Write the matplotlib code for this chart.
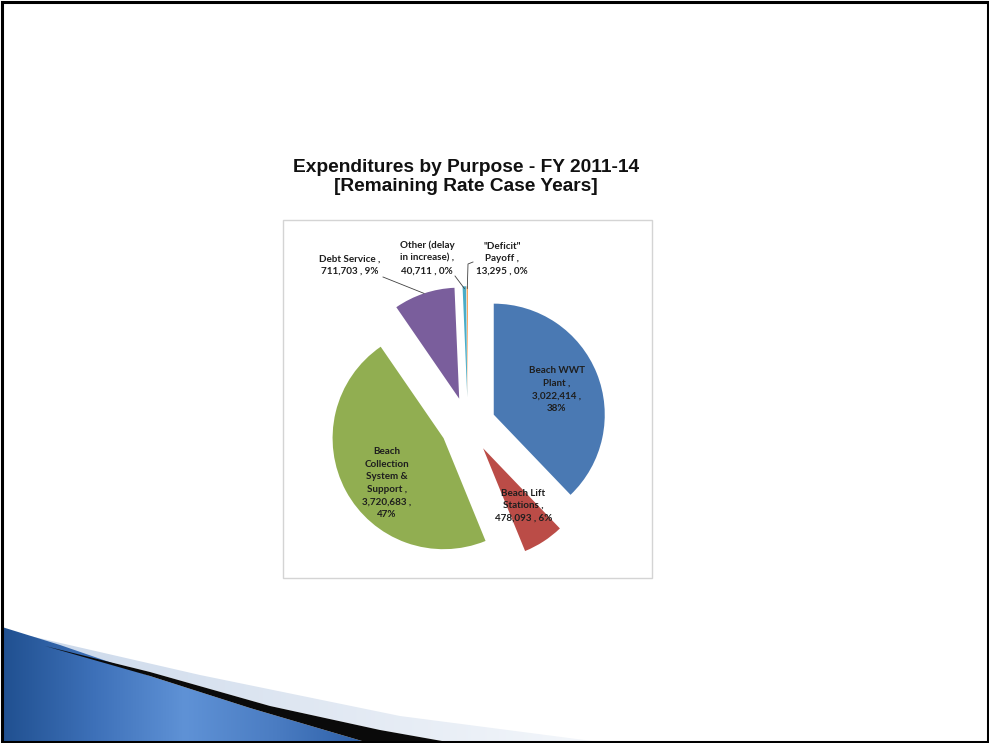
import numpy as np
import matplotlib
matplotlib.use("Agg")
import matplotlib.pyplot as plt
from matplotlib.patches import Polygon, Rectangle
from matplotlib.colors import LinearSegmentedColormap

# ---------------- data ----------------
categories = ["Beach WWT\nPlant ,", "Beach Lift\nStations ,", "Beach\nCollection\nSystem &\nSupport ,",
              "Debt Service ,", "Other (delay\nin increase) ,", "\"Deficit\"\nPayoff ,"]
values = [3022414, 478093, 3720683, 711703, 40711, 13295]
pct_labels = ["38%", "6%", "47%", "9%", "0%", "0%"]
colors = ["#4a79b3", "#bb4c47", "#91ae51", "#7a5e9c", "#4bacc6", "#f79646"]
title = "Expenditures by Purpose - FY 2011-14\n[Remaining Rate Case Years]"

W, H = 989, 743
fig = plt.figure(figsize=(W / 100, H / 100), dpi=100)
fig.patch.set_facecolor("white")
ax = fig.add_axes([0, 0, 1, 1])

def P(x, y):
    """pixel (top-left origin) -> data coords"""
    return (x, H - y)

# ---------------- bottom-left swoosh ----------------
blue_poly = [P(2, 627), P(60, 645), P(150, 676), P(250, 708), P(362, 741), P(2, 741)]
black_poly = [P(45, 646), P(150, 672), P(270, 706), P(380, 730), P(442, 741), P(362, 741),
              P(250, 708), P(150, 676)]
light_poly = [P(30, 636), P(200, 675), P(400, 716), P(592, 741), P(442, 741), P(380, 730),
              P(270, 706), P(150, 672), P(45, 646)]

light_cmap = LinearSegmentedColormap.from_list("l", ["#c9d7ea", "#dfe7f2", "#f4f7fb"])
grad = np.linspace(0, 1, 256).reshape(1, -1)
im = ax.imshow(grad, cmap=light_cmap, extent=(0, 600, 0, 120), aspect="auto", zorder=1)
lp = Polygon(light_poly, closed=True, transform=ax.transData, facecolor="none", edgecolor="none")
ax.add_patch(lp)
im.set_clip_path(lp)

blue_cmap = LinearSegmentedColormap.from_list("b", ["#1f4f8f", "#3d70b8", "#5f92d6", "#4a7cc2", "#2b5ea6"])
im2 = ax.imshow(grad, cmap=blue_cmap, extent=(0, 370, 0, 120), aspect="auto", zorder=2)
bp = Polygon(blue_poly, closed=True, transform=ax.transData, facecolor="none", edgecolor="none")
ax.add_patch(bp)
im2.set_clip_path(bp)

ax.add_patch(Polygon(black_poly, closed=True, facecolor="#0a0a0a", edgecolor="none", zorder=3))

# ---------------- chart area border ----------------
ax.add_patch(Rectangle(P(283, 578), 369, 358, facecolor="none", edgecolor="#d4d4d4", lw=1.0, zorder=4))

# ---------------- pie ----------------
R = 111
cx, cy = P(468, 425)
explode_frac = [0.25] * 6
wedges, _ = ax.pie(values, colors=colors, startangle=90, counterclock=False,
                   radius=R, center=(cx, cy), explode=[e * R for e in explode_frac],
                   wedgeprops=dict(linewidth=0), frame=False)
for w in wedges:
    w.set_zorder(5)

fmt_vals = [f"{v:,}" for v in values]
label_texts = [
    f"{categories[0]}\n{fmt_vals[0]} ,\n{pct_labels[0]}",
    f"{categories[1]}\n{fmt_vals[1]} , {pct_labels[1]}",
    f"{categories[2]}\n{fmt_vals[2]} ,\n{pct_labels[2]}",
    f"{categories[3]}\n{fmt_vals[3]} , {pct_labels[3]}",
    f"{categories[4]}\n{fmt_vals[4]} , {pct_labels[4]}",
    f"{categories[5]}\n{fmt_vals[5]} , {pct_labels[5]}",
]

# label layout: (distance in radii from wedge apex, angle shift in deg)
label_layout = [(0.61, 0), (0.63, 2), (0.65, 10), None, None, None]
# outside labels: polar position relative to unexploded center (radii, deg)
outside_layout = {3: (1.79, 126.4), 4: (1.55, 103.8), 5: (1.53, 78.5)}

lab_font = dict(family=["Lato", "DejaVu Sans"], fontsize=7.1, fontweight="bold", color="#1e1e1e",
                ha="center", va="center", linespacing=1.5, zorder=8)

for i, w in enumerate(wedges):
    th = np.deg2rad((w.theta1 + w.theta2) / 2)
    wx, wy = w.center
    if label_layout[i] is not None:
        r, dth = label_layout[i]
        a = th + np.deg2rad(dth)
        ax.text(wx + r * R * np.cos(a), wy + r * R * np.sin(a), label_texts[i], **lab_font)
    else:
        r, ang = outside_layout[i]
        a = np.deg2rad(ang)
        ax.text(cx + r * R * np.cos(a), cy + r * R * np.sin(a), label_texts[i], **lab_font)

# leader lines (from label edge to wedge outer arc)
def arc_pt(w, frac=0.5, rr=1.0):
    t = np.deg2rad(w.theta1 + frac * (w.theta2 - w.theta1))
    return (w.center[0] + rr * R * np.cos(t), w.center[1] + rr * R * np.sin(t))

lx, ly = arc_pt(wedges[3])
ax.plot([P(383, 277)[0], lx], [P(383, 277)[1], ly], color="#404040", lw=0.6, zorder=7)
ox, oy = arc_pt(wedges[4], rr=0.98)
ax.plot([P(455, 276)[0], ox], [P(455, 276)[1], oy], color="#404040", lw=0.6, zorder=7)
dx, dy = arc_pt(wedges[5], rr=0.98)
ax.plot([P(473, 262)[0], P(468, 264)[0], dx], [P(473, 262)[1], P(468, 264)[1], dy],
        color="#404040", lw=0.6, zorder=7)

# ---------------- title ----------------
ax.text(*P(466, 177), title, ha="center", va="center", fontsize=13.8,
        fontweight="bold", family=["Liberation Sans", "DejaVu Sans"], color="#111111",
        linespacing=1.1, zorder=8)

# ---------------- slide frame ----------------
ax.add_patch(Rectangle((1.5, 1.5), W - 3, H - 3, facecolor="none", edgecolor="black", lw=2.2, zorder=10))

ax.set_xlim(0, W)
ax.set_ylim(0, H)
ax.set_aspect("auto")
ax.axis("off")

fig.savefig("out.png", dpi=100, facecolor="white")
